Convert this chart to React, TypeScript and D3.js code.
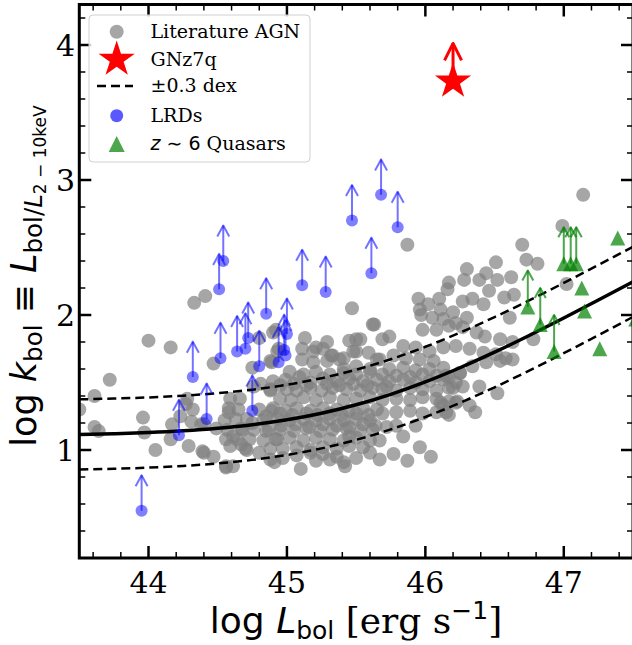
import React from "react";
import * as d3 from "d3";

// ---------- data ----------
const xDomain: [number, number] = [43.5, 47.5];
const yDomain: [number, number] = [0.2, 4.3];
const xTickValues = [44, 45, 46, 47];
const yTickValues = [1, 2, 3, 4];
const xMinorTicks = d3.range(43.6, 47.45, 0.2).map((v) => +v.toFixed(1));
const yMinorTicks = d3.range(0.4, 4.25, 0.2).map((v) => +v.toFixed(1));

// Literature AGN: [log Lbol, log kbol]
const literatureAGN: [number, number][] = [
  [43.50, 1.30], [43.61, 1.40], [43.72, 1.52], [43.61, 1.17], [43.64, 1.14], [43.96, 1.24], [43.97, 1.13],
  [44.05, 1.00], [44.00, 1.81], [44.16, 1.76], [44.17, 1.19], [44.16, 1.08], [44.27, 1.34], [44.32, 1.30],
  [44.29, 1.03], [44.39, 0.99], [44.47, 0.95], [44.47, 1.64], [44.38, 1.19], [44.49, 1.16], [44.56, 0.88],
  [44.61, 0.88], [44.33, 2.09], [44.41, 2.14], [44.40, 0.98], [44.23, 1.25], [44.31, 1.21], [44.40, 1.19],
  [44.28, 1.38],
  [44.59, 1.38], [44.65, 1.30], [44.58, 1.28], [44.63, 1.23], [44.57, 1.15], [44.68, 1.15], [44.61, 1.10],
  [44.67, 1.04], [44.59, 1.03], [44.70, 1.01], [44.56, 1.08], [44.75, 1.20], [44.73, 1.08], [44.80, 0.98],
  [44.85, 1.25], [44.87, 1.15], [44.92, 1.08], [44.91, 0.91], [44.89, 1.29], [44.88, 1.45], [44.81, 1.49],
  [44.89, 1.65], [44.94, 1.75], [44.92, 1.89], [44.75, 1.61], [44.80, 1.83], [44.90, 1.87], [44.93, 1.73],
  [44.88, 1.66], [44.76, 1.47], [44.90, 1.51], [44.88, 1.44], [44.66, 1.38], [44.80, 1.30], [44.71, 1.23],
  [44.83, 1.22], [44.76, 1.15], [44.85, 1.14], [44.64, 1.08], [44.83, 1.07], [44.71, 1.00], [44.88, 1.01],
  [44.88, 0.93], [44.56, 0.87], [44.58, 1.31], [44.55, 1.22], [44.67, 1.16],
  [45.13, 1.83], [45.11, 1.75], [45.19, 1.73], [45.29, 1.80], [45.26, 1.75], [45.45, 1.81], [45.50, 1.82],
  [45.33, 1.70], [45.41, 1.68], [45.48, 1.73], [45.47, 2.05], [45.62, 1.93], [45.21, 1.76], [45.32, 1.70],
  [45.53, 1.82], [45.50, 1.73], [45.59, 1.72], [45.65, 1.67], [45.11, 1.67], [45.19, 1.65], [45.29, 1.66],
  [45.38, 1.67], [45.41, 1.60], [45.50, 1.62], [45.60, 1.60], [44.99, 1.52], [45.00, 1.45], [45.09, 1.54],
  [45.17, 1.50],
  [45.26, 1.53], [45.36, 1.51], [45.45, 1.53], [45.55, 1.51], [45.65, 1.52],
  [45.02, 1.58], [45.12, 1.56], [45.21, 1.58], [45.31, 1.56], [45.41, 1.57], [45.50, 1.56], [45.60, 1.58], [45.69, 1.56],
  [45.07, 1.44], [45.17, 1.46], [45.25, 1.44], [45.33, 1.46], [45.43, 1.45], [45.53, 1.44], [45.62, 1.46],
  [44.95, 1.48], [45.05, 1.49], [45.14, 1.48], [45.29, 1.49], [45.38, 1.48], [45.48, 1.49], [45.58, 1.48], [45.72, 1.47],
  [44.95, 1.38], [45.03, 1.37], [45.12, 1.39], [45.21, 1.37], [45.31, 1.39], [45.41, 1.37], [45.50, 1.38], [45.60, 1.39], [45.69, 1.37],
  [44.90, 1.31], [44.99, 1.29], [45.07, 1.31], [45.17, 1.29], [45.26, 1.31], [45.36, 1.30], [45.45, 1.29], [45.55, 1.31], [45.65, 1.30],
  [44.95, 1.27], [45.04, 1.26], [45.14, 1.27], [45.22, 1.26], [45.31, 1.27], [45.40, 1.26], [45.50, 1.27], [45.59, 1.26], [45.69, 1.27],
  [44.93, 1.23], [45.02, 1.22], [45.12, 1.23], [45.21, 1.22], [45.31, 1.23], [45.41, 1.22], [45.50, 1.23], [45.60, 1.22],
  [44.96, 1.18], [45.06, 1.19], [45.16, 1.17], [45.26, 1.19], [45.36, 1.18], [45.45, 1.17], [45.55, 1.19], [45.64, 1.18], [45.72, 1.17], [45.79, 1.18],
  [44.95, 1.15], [45.05, 1.14], [45.14, 1.16], [45.24, 1.14], [45.33, 1.15], [45.43, 1.16], [45.53, 1.14], [45.62, 1.15],
  [44.93, 1.08], [45.02, 1.09], [45.12, 1.07], [45.21, 1.09], [45.31, 1.08], [45.41, 1.07], [45.50, 1.09], [45.60, 1.07], [45.67, 1.07],
  [44.97, 1.01], [45.07, 1.02], [45.17, 1.00], [45.26, 1.02], [45.36, 1.01], [45.45, 1.03], [45.55, 1.02], [45.45, 1.10],
  [44.97, 0.94], [45.07, 0.96], [45.17, 0.98], [45.26, 0.97], [45.36, 0.95],
  [45.21, 0.92], [45.31, 0.93], [45.41, 0.91], [45.50, 0.94], [45.60, 0.98], [45.67, 0.93], [45.77, 0.97], [45.87, 0.92],
  [45.10, 0.86], [45.42, 0.88], [45.96, 1.02], [46.04, 0.95], [45.84, 1.10], [45.93, 1.18],
  [45.79, 1.28], [45.89, 1.29], [45.98, 1.27], [46.08, 1.28],
  [45.79, 1.38], [45.89, 1.37], [45.98, 1.39], [46.08, 1.38], [46.17, 1.36],
  [45.69, 1.45], [45.79, 1.44], [45.89, 1.46], [45.98, 1.45], [46.08, 1.44], [46.17, 1.46], [46.27, 1.47],
  [45.79, 1.55], [45.89, 1.54], [45.98, 1.56], [46.08, 1.55], [46.17, 1.54], [46.25, 1.57],
  [45.74, 1.51], [45.84, 1.52], [45.93, 1.50], [46.03, 1.51], [46.13, 1.52], [46.22, 1.50],
  [45.74, 1.60], [45.84, 1.61], [45.93, 1.59], [46.03, 1.60], [46.13, 1.61],
  [45.67, 1.67], [45.77, 1.70], [45.86, 1.68], [45.96, 1.67], [46.06, 1.66],
  [45.84, 1.77], [45.93, 1.76], [46.03, 1.73], [46.13, 1.76], [46.22, 1.77], [46.32, 1.75], [46.42, 1.72],
  [46.51, 1.71], [46.58, 1.68], [46.63, 1.67],
  [45.69, 1.82], [45.74, 1.84], [45.63, 1.93], [45.98, 1.89], [46.08, 1.89], [46.17, 1.92], [46.27, 1.91],
  [46.37, 1.87], [46.43, 1.84], [46.54, 1.82], [46.63, 1.80], [46.78, 1.82], [46.61, 1.98], [46.11, 2.04],
  [46.20, 2.02], [46.30, 1.98], [46.05, 1.98], [46.13, 1.97], [46.22, 1.94], [46.27, 2.10], [46.34, 2.12],
  [46.42, 2.08], [46.46, 2.18], [46.57, 2.13], [46.64, 2.15], [46.17, 2.24], [46.16, 2.19], [46.10, 2.12],
  [45.95, 2.12], [46.02, 2.08], [45.96, 2.04], [45.97, 2.00], [46.28, 2.26], [46.39, 2.26], [46.52, 2.26],
  [46.62, 2.28], [46.30, 2.34], [46.44, 2.31], [46.51, 2.39], [46.70, 2.52], [46.73, 2.41], [46.81, 2.38],
  [45.87, 2.52], [46.54, 1.66], [46.44, 1.65], [46.34, 1.62], [46.25, 1.57], [46.15, 1.55], [46.20, 1.46],
  [46.39, 1.47], [46.52, 1.42], [46.11, 1.35], [46.15, 1.28], [46.23, 1.36], [46.32, 1.33], [46.36, 1.28],
  [46.13, 1.33], [46.17, 1.26], [46.22, 1.35],
  [47.14, 2.89], [46.99, 2.66], [47.02, 2.23],
];

// Little red dots (lower limits)
const lrds: [number, number][] = [
  [43.95, 0.55], [44.22, 1.11], [44.32, 1.54], [44.42, 1.23], [44.51, 2.19], [44.54, 2.40], [44.52, 1.68],
  [44.64, 1.73], [44.70, 1.75], [44.72, 1.83], [44.75, 1.29], [44.80, 1.62], [44.85, 2.01], [44.94, 1.65],
  [44.98, 1.74], [45.00, 1.86], [44.99, 1.70], [45.11, 2.22], [45.28, 2.17], [45.47, 2.70], [45.61, 2.31],
  [45.68, 2.89], [45.80, 2.65],
];

// z~6 quasars: lower limits and measured values
const quasarLimits: [number, number][] = [
  [46.74, 2.06], [46.83, 1.93], [46.93, 1.73], [47.00, 2.38], [47.05, 2.38], [47.09, 2.38],
];
const quasars: [number, number][] = [
  [47.13, 2.20], [47.15, 2.03], [47.26, 1.75], [47.39, 2.57], [47.52, 1.97],
];

// GNz7q (lower limit)
const gnz7q: [number, number] = [46.2, 3.73];

// Bolometric correction relation (sampled)
const relationX = [43.5, 43.75, 44, 44.25, 44.5, 44.75, 45, 45.25, 45.5, 45.75, 46, 46.25, 46.5, 46.75, 47, 47.25, 47.5];
const relationY = [1.1153, 1.1209, 1.1293, 1.142, 1.1605, 1.1869, 1.2234, 1.2722, 1.335, 1.4126, 1.5045, 1.6093, 1.7246, 1.8482, 1.9775, 2.1107, 2.246];
const relationScatter = 0.26;
const limitArrowLength = 0.27;

// ---------- layout ----------
const W = 632;
const H = 645;
const plotLeft = 79.3;
const plotRight = 633;
const plotTop = 4.5;
const plotBottom = 558;

const SERIF = "DejaVu Serif";
const SANS = "DejaVu Sans";

const x = d3.scaleLinear().domain(xDomain).range([plotLeft, plotRight]);
const y = d3.scaleLinear().domain(yDomain).range([plotBottom, plotTop]);

const relation: [number, number][] = relationX.map((v, i) => [v, relationY[i]]);
const line = d3
  .line<[number, number]>()
  .x((d) => x(d[0]))
  .y((d) => y(d[1]))
  .curve(d3.curveMonotoneX);

const starPath = (R: number) => d3.symbol().type(d3.symbolStar).size((R * R) / 0.8908130915292852)() as string;
const triPath = (s: number) => `M0,${-s}L${s},${s}L${-s},${s}Z`;

function Arrow({ px, py, len, hw, hl, color, opacity, sw }: any) {
  const tip = py - len;
  return (
    <g stroke={color} strokeOpacity={opacity} strokeWidth={sw} fill="none" strokeLinejoin="round">
      <line x1={px} y1={py} x2={px} y2={tip} />
      <polyline points={`${px - hw},${tip + hl} ${px},${tip} ${px + hw},${tip + hl}`} />
    </g>
  );
}

export default function App() {
  const arrowPx = y(0) - y(limitArrowLength);
  return (
    <svg
      width={W}
      height={H}
      style={{ position: "fixed", left: 0, top: 0, background: "#fff" }}
      xmlns="http://www.w3.org/2000/svg"
    >
      <defs>
        <clipPath id="plotclip">
          <rect x={plotLeft} y={plotTop} width={plotRight - plotLeft} height={plotBottom - plotTop} />
        </clipPath>
      </defs>
      <rect x={0} y={0} width={W} height={H} fill="#fff" />

      <g clipPath="url(#plotclip)">
        {literatureAGN.map((d, i) => (
          <circle key={"g" + i} cx={x(d[0])} cy={y(d[1])} r={7} fill="#808080" fillOpacity={0.7} />
        ))}

        <path d={line(relation) as string} fill="none" stroke="#000" strokeWidth={3.5} />
        <path
          d={line(relation.map((d) => [d[0], d[1] + relationScatter] as [number, number])) as string}
          fill="none"
          stroke="#000"
          strokeWidth={2.5}
          strokeDasharray="9,5"
        />
        <path
          d={line(relation.map((d) => [d[0], d[1] - relationScatter] as [number, number])) as string}
          fill="none"
          stroke="#000"
          strokeWidth={2.5}
          strokeDasharray="9,5"
        />

        {lrds.map((d, i) => (
          <g key={"b" + i}>
            <Arrow px={x(d[0])} py={y(d[1])} len={arrowPx - 1} hw={6} hl={11} color="#0000ff" opacity={0.55} sw={2} />
            <circle cx={x(d[0])} cy={y(d[1])} r={6} fill="#0000ff" fillOpacity={0.5} />
          </g>
        ))}

        {quasarLimits.map((d, i) => (
          <g key={"ql" + i}>
            <Arrow px={x(d[0])} py={y(d[1])} len={arrowPx} hw={5.5} hl={10} color="#008000" opacity={0.7} sw={2} />
            <path d={triPath(7.5)} transform={`translate(${x(d[0])},${y(d[1])})`} fill="#008000" fillOpacity={0.7} />
          </g>
        ))}
        {quasars.map((d, i) => (
          <path
            key={"q" + i}
            d={triPath(7.5)}
            transform={`translate(${x(d[0])},${y(d[1])})`}
            fill="#008000"
            fillOpacity={0.7}
          />
        ))}

        <Arrow px={x(gnz7q[0])} py={y(gnz7q[1])} len={38} hw={8.5} hl={17} color="#ff0000" opacity={1} sw={3} />
        <path d={starPath(19)} transform={`translate(${x(gnz7q[0])},${y(gnz7q[1])})`} fill="#ff0000" />
      </g>

      {/* ticks */}
      <g stroke="#000">
        {xTickValues.map((v) => (
          <g key={"xt" + v} strokeWidth={2.5}>
            <line x1={x(v)} x2={x(v)} y1={plotBottom} y2={plotBottom - 12} />
            <line x1={x(v)} x2={x(v)} y1={plotTop} y2={plotTop + 12} />
          </g>
        ))}
        {xMinorTicks
          .filter((v) => !xTickValues.includes(v))
          .map((v) => (
            <g key={"xm" + v} strokeWidth={1.5}>
              <line x1={x(v)} x2={x(v)} y1={plotBottom} y2={plotBottom - 6} />
              <line x1={x(v)} x2={x(v)} y1={plotTop} y2={plotTop + 6} />
            </g>
          ))}
        {yTickValues.map((v) => (
          <g key={"yt" + v} strokeWidth={2.5}>
            <line x1={plotLeft} x2={plotLeft + 12} y1={y(v)} y2={y(v)} />
            <line x1={plotRight} x2={plotRight - 12} y1={y(v)} y2={y(v)} />
          </g>
        ))}
        {yMinorTicks
          .filter((v) => !yTickValues.includes(v))
          .map((v) => (
            <g key={"ym" + v} strokeWidth={1.5}>
              <line x1={plotLeft} x2={plotLeft + 6} y1={y(v)} y2={y(v)} />
              <line x1={plotRight} x2={plotRight - 6} y1={y(v)} y2={y(v)} />
            </g>
          ))}
      </g>

      {/* spines */}
      <rect
        x={plotLeft}
        y={plotTop}
        width={plotRight - plotLeft}
        height={plotBottom - plotTop}
        fill="none"
        stroke="#000"
        strokeWidth={3}
      />

      {/* tick labels */}
      {xTickValues.map((v) => (
        <text key={"xl" + v} x={x(v)} y={593} textAnchor="middle" fontFamily={SERIF} fontSize={30}>
          {v}
        </text>
      ))}
      {yTickValues.map((v) => (
        <text key={"yl" + v} x={75} y={y(v) + 11} textAnchor="end" fontFamily={SERIF} fontSize={30}>
          {v}
        </text>
      ))}

      {/* axis labels */}
      <text x={356} y={633} textAnchor="middle" fontSize={36}>
        <tspan fontFamily={SANS}>log </tspan>
        <tspan fontFamily={SANS} fontStyle="italic">L</tspan>
        <tspan fontFamily={SANS} fontSize={25} dy={6}>bol</tspan>
        <tspan fontFamily={SERIF} dy={-6}> [erg s</tspan>
        <tspan fontFamily={SANS} fontSize={25} dy={-14}>−1</tspan>
        <tspan fontFamily={SERIF} dy={14}>]</tspan>
      </text>
      <text transform="translate(36,276) rotate(-90)" textAnchor="middle" fontSize={35} fontFamily={SANS}>
        <tspan>log </tspan>
        <tspan fontStyle="italic">k</tspan>
        <tspan fontSize={24.5} dy={6}>bol</tspan>
        <tspan dy={-6}> ≡ </tspan>
        <tspan fontStyle="italic">L</tspan>
        <tspan fontSize={24.5} dy={6}>bol/</tspan>
        <tspan fontSize={24.5} fontStyle="italic">L</tspan>
        <tspan fontSize={17} dy={4}>2 − 10keV</tspan>
      </text>

      {/* legend */}
      <g>
        <rect x={89} y={15} width={221} height={147} rx={4} fill="#fff" fillOpacity={0.8} stroke="#d0d0d0" strokeWidth={1} />
        <circle cx={116.7} cy={31.7} r={7} fill="#808080" fillOpacity={0.7} />
        <path d={starPath(19)} transform="translate(116.7,59.5)" fill="#ff0000" />
        <line x1={97} x2={133} y1={86} y2={86} stroke="#000" strokeWidth={2.5} strokeDasharray="9,5" />
        <circle cx={116.7} cy={115.7} r={6.5} fill="#0000ff" fillOpacity={0.65} />
        <path d={triPath(8)} transform="translate(116.7,144)" fill="#008000" fillOpacity={0.7} />
        <g fontFamily={SERIF} fontSize={19}>
          <text x={150.5} y={37.5}>Literature AGN</text>
          <text x={150.5} y={65.5}>GNz7q</text>
          <text x={150.5} y={92}>±0.3 dex</text>
          <text x={150.5} y={121.5}>LRDs</text>
          <text x={150.5} y={149.5}>
            <tspan fontFamily={SANS} fontStyle="italic">z</tspan>
            <tspan fontFamily={SANS}> ∼ 6</tspan>
            <tspan> Quasars</tspan>
          </text>
        </g>
      </g>
    </svg>
  );
}
